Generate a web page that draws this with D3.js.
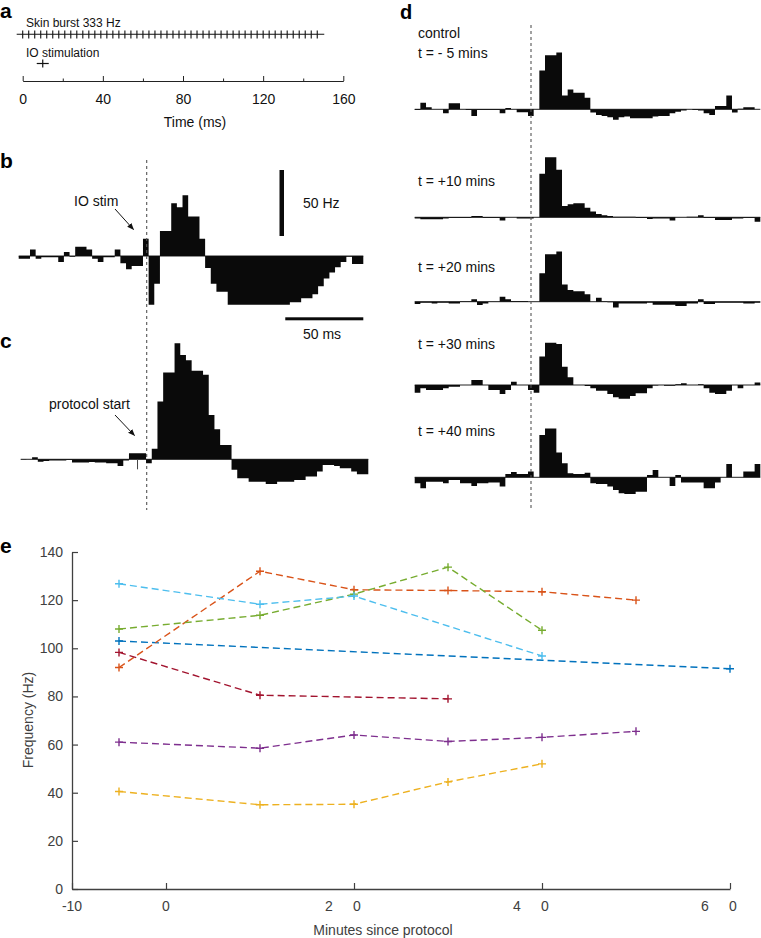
<!DOCTYPE html>
<html><head><meta charset="utf-8">
<script src="https://cdn.jsdelivr.net/npm/d3@7"></script>
<style>
body{margin:0;background:#fff}
svg{display:block}
text{font-family:"Liberation Sans",Arial,Helvetica,sans-serif}
</style></head>
<body><svg id="fig" width="761" height="938"></svg>
<script>
// ---------------- DATA ----------------
// panel a: stimulation protocol (ms)
const burstTimesMs = [0,3,6,9,12,15,18,21,24,27,30,33,36,39,42,45,48,51,54,57,60,63,66,69,72,75,78,81,84,87,90,93,96,99,102,105,108,111,114,117,120,123,126,129,132,135,138,141,144,147];
const ioStimMs = 10;
const aMajorTicks = [0,40,80,120,160];
const aMinorTicks = [20,60,100,140];

// histogram bin width (ms) and scale bars
const binMs = 3.62;
const scaleBarHz = 50, scaleBarMs = 50;

// panel b: IO stim PSTH (Hz, relative to baseline)
const histB = [-2,-2,5,-2,-1,-1,-1,-4.5,3,-0.5, 7,7,5,-2,-4.5,-1,-1,5,-5.5,-10, -7.5,-7.5,13,-37,-21,19,19,40,37,46, 30,30,13,-9,-21,-27,-27,-37,-37,-37, -37,-37,-37,-37,-37,-37,-37,-37,-35,-35, -32,-32,-29,-23,-17,-12.5,-8.5,-4.5,-0.5,-6, -6];
// panel c: protocol start PSTH
const histC = [0.3,0,1.5,-1.8,-1.2,-1,-1,-1,-0.5,-2.5, -2.5,-2.5,-2,-2.5,-2.5,-3,-3,-5,-1,4.5, 4.5,4.5,-3,8,43.7,65.7,65.7,88,79,75, 67,67,64,33.6,22.7,10.9,10.9,-8,-14.4,-14.4, -17,-17,-17,-18.7,-18.7,-17,-17,-17,-15.7,-15.7, -13,-13,-9.3,-4.3,-4.3,-5,-6.8,-6.8,-9.3,-11.4, -11.4];
// panel d: PSTHs over time
const histDm5 = [-0.5,5,1.5,0,0,-3,4.5,4.5,0,-0.5, -5,-0.5,-0.5,-0.5,-0.5,-3,1,0,-2.3,-2.3, -5,0,29.3,41,41,43,10.4,15,12.6,12.6, 8.8,-2.5,-4.3,-5,-6,-8,-6,-5.5,-6.8,-6.8, -6.8,-6.8,-5.5,-5,-5,-3,-1.8,-1,0,-0.5, -1,-3,-4.3,2.5,2.5,10.4,-2.5,0.5,1.5,1.5, 0];
const histD10 = [-1,-1.5,-1.5,-1.5,-1.5,-1,-0.5,-0.5,-0.5,-0.5, 1,1,-0.5,-0.5,-0.5,-2.5,0,0,-1,-1, -1,0,33,45.5,45.5,36,8.6,9.8,10.6,10.6, 7.3,4.3,2.5,1.5,1,0.5,0.5,0.5,0.5,-0.5, -0.5,-1.3,-1,-1,-1,-2.5,0,0,0.5,0.5, 1.5,-0.5,-0.5,-2,-2,-2,-1,-1,-0.5,-0.5, -3.3];
const histD20 = [-1.8,-0.8,-0.8,-1.3,-0.8,-0.8,-1.3,-1.3,0.3,0.3, 1.8,-2.5,-1.3,-0.3,-0.3,3.8,1.8,0.5,0.5,0.5, 0,0,21.5,36,36,38,13,8.8,8,8, 5.6,0,3,0.3,-0.5,-4.3,-1.3,-1.3,-1.3,-1.3, -1.3,-0.8,-2.3,-2.3,-2.3,-2.3,-3.3,-3.3,-1.3,-1.3, 1.8,-1.8,-1.8,-0.8,-0.8,-0.8,-0.8,-0.8,-1.3,-1.3, -0.8];
const histD30 = [-5.8,-2.5,-3.8,-3.8,-3.8,-2.5,-1.3,-1.3,0,0, 3.8,3.8,0,-3.8,-3.8,-6.8,-3.8,2.5,0,0, -3.8,-5.8,21.5,32,32,31,13.9,5.8,0,0, -0.8,-2.5,-4.3,-4.3,-6.8,-9.3,-10.4,-10.4,-8.3,-6.3, -6.3,-2.5,-0.3,0,-0.5,-0.5,0.5,1.3,0,0, 0.5,-2.5,-5.8,-6.8,-6.8,-4.3,0,-2.5,0,0, 1.8];
const histD40 = [-4.5,-8.3,-3.3,-3.3,-3.3,-4.5,-2,-2,-4.5,-4.5, -6.6,-4.5,-4.5,-4,-4,-7,2.5,4,2.5,2.5, 4.3,0,32,37,37,18.7,10.6,3,2.5,2.5, 3.5,-4.5,-5,-5,-7,-9.6,-12,-12.6,-12.6,-10.9, -10.9,1.8,5.6,0,0,-6.6,1.8,-4,-4,-4, -4,-8.3,-8.3,-4,0,10,0,0,4.3,4.3, 10];
const dLabels = [["control","t = - 5 mins"],["t = +10 mins"],["t = +20 mins"],["t = +30 mins"],["t = +40 mins"]];

// panel e: frequency vs minutes since protocol
const eTimes = [-5,10,20,30,40,50,60];
const eBlue      = [103, null, null, null, null, null, 91.5];
const eOrange    = [92, 132, 124.3, 124, 123.5, 120, null];
const eYellow    = [40.5, 35, 35.2, 44.5, 52, null, null];
const ePurple    = [61, 58.5, 64, 61.3, 63, 65.5, null];
const eGreen     = [108, 113.7, 122.5, 133.7, 107.5, null, null];
const eLightBlue = [126.8, 118.3, 121.7, null, 96.8, null, null];
const eDarkRed   = [98.3, 80.5, null, 79, null, null, null];
const eSeries = [eBlue,eOrange,eYellow,ePurple,eGreen,eLightBlue,eDarkRed];
const eColors = ["#0072BD","#D95319","#EDB120","#7E2F8E","#77AC30","#4DBEEE","#A2142F"];
const eYTicks = [0,20,40,60,80,100,120,140];
const eXTicks = [-10,0,20,40,60];
const eXTickLabels = [["-10"],["0"],["2","0"],["4","0"],["6","0"]];

// ---------------- DRAW ----------------
const svg = d3.select("#fig");
const ink = "#111";

function panelLabel(t,x,y,size){
  svg.append("text").attr("x",x).attr("y",y).attr("font-size",size||21).attr("font-weight","bold").attr("fill","#000").text(t);
}
function txt(t,x,y,size,anchor,fill){
  return svg.append("text").attr("x",x).attr("y",y).attr("font-size",size||14)
    .attr("text-anchor",anchor||"start").attr("fill",fill||"#111").text(t);
}

// ----- panel a -----
panelLabel("a",0,18);
const aX = d3.scaleLinear().domain([0,160]).range([22.7,343.3]);
txt("Skin burst 333 Hz",26,26.5,12);
const aTrain = svg.append("g");
aTrain.append("line").attr("x1",aX(-3)).attr("x2",aX(150.5)).attr("y1",34.3).attr("y2",34.3).attr("stroke",ink).attr("stroke-width",1.1);
aTrain.selectAll("line.t").data(burstTimesMs).join("line").attr("class","t")
  .attr("x1",d=>aX(d)).attr("x2",d=>aX(d)).attr("y1",30.5).attr("y2",38.5).attr("stroke",ink).attr("stroke-width",1.1);
txt("IO stimulation",26,56.5,12);
svg.append("line").attr("x1",aX(ioStimMs-3)).attr("x2",aX(ioStimMs+3)).attr("y1",63.5).attr("y2",63.5).attr("stroke",ink).attr("stroke-width",1.2);
svg.append("line").attr("x1",aX(ioStimMs)).attr("x2",aX(ioStimMs)).attr("y1",59.5).attr("y2",67.5).attr("stroke",ink).attr("stroke-width",1.2);
const aAxis = svg.append("g").attr("transform","translate(0,81)")
  .call(d3.axisBottom(aX).tickValues(aMajorTicks).tickSize(-5).tickSizeOuter(0).tickPadding(13));
aAxis.select(".domain").attr("stroke","#222");
aAxis.selectAll(".tick line").attr("stroke","#222");
aAxis.selectAll("text").attr("font-size",14).attr("font-family","Liberation Sans, Arial").attr("fill","#111");
svg.append("g").attr("transform","translate(0,81)")
  .call(d3.axisBottom(aX).tickValues(aMinorTicks).tickSize(-2.5).tickSizeOuter(0).tickFormat(""))
  .call(g=>{g.select(".domain").remove(); g.selectAll("line").attr("stroke","#222");});
txt("Time (ms)",195,126.5,14,"middle");

// ----- histogram helper -----
const pxPerHz = 1.32;
function drawHist(values,x0,x1,base){
  const n = values.length;
  const x = d3.scaleLinear().domain([0,n*binMs]).range([x0,x1]);
  const y = d3.scaleLinear().domain([-50,50]).range([base+50*pxPerHz, base-50*pxPerHz]);
  const g = svg.append("g");
  g.append("line").attr("x1",x0).attr("x2",x1).attr("y1",y(0)).attr("y2",y(0)).attr("stroke","#222").attr("stroke-width",1);
  const pts = values.map((v,i)=>[i*binMs,v]).concat([[n*binMs,values[n-1]]]);
  const area = d3.area().curve(d3.curveStepAfter).x(d=>x(d[0])).y0(y(0)).y1(d=>y(d[1]));
  g.append("path").attr("d",area(pts)).attr("fill","#0a0a0a");
  return {x,y};
}
function dashed(x,y1,y2){
  svg.append("line").attr("x1",x).attr("x2",x).attr("y1",y1).attr("y2",y2)
    .attr("stroke","#555").attr("stroke-width",1.1).attr("stroke-dasharray","3,3");
}
svg.append("defs").append("marker").attr("id","arr").attr("viewBox","0 0 10 10")
  .attr("refX",9).attr("refY",5).attr("markerWidth",7).attr("markerHeight",7).attr("orient","auto")
  .append("path").attr("d","M0,1 L10,5 L0,9 Z").attr("fill","#111");
function arrow(x1,y1,x2,y2){
  svg.append("line").attr("x1",x1).attr("y1",y1).attr("x2",x2).attr("y2",y2)
    .attr("stroke","#111").attr("stroke-width",1).attr("marker-end","url(#arr)");
}

// ----- panel b -----
panelLabel("b",0,168);
const hb = drawHist(histB,18.7,363.3,256);
dashed(146.7,160,510);
txt("IO stim",74,206,14);
arrow(115,209,133.5,229.5);
// scale bars (lengths from the histogram scales)
const barLen = hb.y(0)-hb.y(scaleBarHz);
svg.append("rect").attr("x",279.5).attr("width",4.5).attr("y",236-barLen).attr("height",barLen).attr("fill","#0a0a0a");
txt("50 Hz",303,208,14);
const msLen = hb.x(scaleBarMs)-hb.x(0);
svg.append("rect").attr("x",363.3-msLen).attr("width",msLen).attr("y",317.3).attr("height",3).attr("fill","#0a0a0a");
txt("50 ms",303,339,14);

// ----- panel c -----
panelLabel("c",0,348);
const hc = drawHist(histC,20.7,368.3,459.3);
svg.append("line").attr("x1",hc.x(20.5*binMs)).attr("x2",hc.x(20.5*binMs)).attr("y1",459.3).attr("y2",469.3).attr("stroke","#444").attr("stroke-width",1);
txt("protocol start",49,409,14);
arrow(115,415,134.5,435.5);

// ----- panel d -----
panelLabel("d",400,19,20);
const dBases = [109.3,217.3,301.7,385,477.3];
[histDm5,histD10,histD20,histD30,histD40].forEach((h,i)=>drawHist(h,414.7,760.3,dBases[i]));
dashed(531,25,510);
txt(dLabels[0][0],418,38,14); txt(dLabels[0][1],418,58,14);
txt(dLabels[1][0],418,186,14);
txt(dLabels[2][0],418,272,14);
txt(dLabels[3][0],418,348.5,14);
txt(dLabels[4][0],418,436,14);

// ----- panel e -----
panelLabel("e",0,553);
const eX = d3.scaleLinear().domain([-10,60]).range([72,730]);
const eY = d3.scaleLinear().domain([0,140]).range([889,552]);
const axCol = "#404040";
const yAx = svg.append("g").attr("transform","translate(72,0)")
  .call(d3.axisLeft(eY).tickValues(eYTicks).tickSize(-6).tickSizeOuter(0).tickPadding(9));
yAx.select(".domain").attr("stroke",axCol).attr("stroke-width",1.3);
yAx.selectAll(".tick line").attr("stroke",axCol).attr("stroke-width",1.2);
yAx.selectAll("text").attr("font-size",14).attr("fill",axCol).attr("font-family","Liberation Sans, Arial");
const xAx = svg.append("g").attr("transform","translate(0,889)")
  .call(d3.axisBottom(eX).tickValues(eXTicks).tickSize(-6).tickSizeOuter(0).tickFormat(""));
xAx.select(".domain").attr("stroke",axCol).attr("stroke-width",1.3);
xAx.selectAll(".tick line").attr("stroke",axCol).attr("stroke-width",1.2);
eXTicks.forEach((v,i)=>{
  const parts = eXTickLabels[i];
  const t = svg.append("text").attr("y",911).attr("font-size",14).attr("fill",axCol);
  if(parts.length===1){ t.attr("x",eX(v)).attr("text-anchor","middle").text(parts[0]); }
  else {
    t.append("tspan").attr("x",eX(v)-25).attr("text-anchor","middle").text(parts[0]);
    t.append("tspan").attr("x",eX(v)+3).attr("text-anchor","middle").text(parts[1]);
  }
});
txt("Minutes since protocol",383,935,14,"middle",axCol);
svg.append("text").attr("transform","translate(33,720) rotate(-90)").attr("text-anchor","middle")
  .attr("font-size",14).attr("fill",axCol).text("Frequency (Hz)");

const line = d3.line().x(d=>eX(d[0])).y(d=>eY(d[1]));
eSeries.forEach((s,i)=>{
  const pts = eTimes.map((t,j)=>[t,s[j]]).filter(d=>d[1]!==null);
  const g = svg.append("g");
  g.append("path").attr("d",line(pts)).attr("fill","none").attr("stroke",eColors[i])
    .attr("stroke-width",1.4).attr("stroke-dasharray","7,4");
  g.selectAll("path.m").data(pts).join("path").attr("class","m")
    .attr("d",d=>{const x=eX(d[0]),y=eY(d[1]);return `M${x-4},${y}H${x+4}M${x},${y-4}V${y+4}`;})
    .attr("stroke",eColors[i]).attr("stroke-width",1.4);
});
</script>
</body></html>
